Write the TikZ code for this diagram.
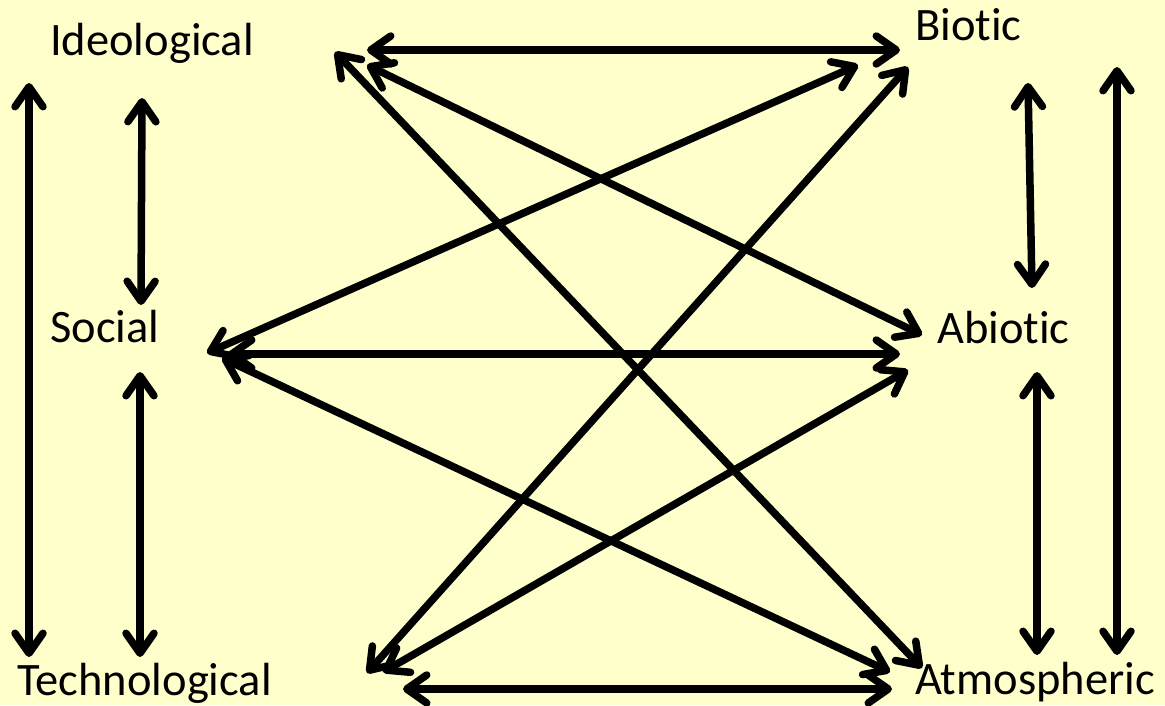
\documentclass[tikz,border=0pt]{standalone}
\usepackage{fontspec}
\setmainfont{Carlito}[Ligatures={NoCommon,NoContextual}]
\usetikzlibrary{arrows.meta}
\definecolor{bg}{HTML}{FFFFCC}
\begin{document}
\begin{tikzpicture}[x=1pt,y=-1pt,
  lbl/.style={anchor=base west,inner sep=0pt,font=\fontsize{46.5}{50}\selectfont},
  link/.style={line width=7.5pt,{Straight Barb[length=20pt,width=28pt,round]}-{Straight Barb[length=20pt,width=28pt,round]}}]
\fill[bg] (0,0) rectangle (1165,705);
\useasboundingbox (0,0) rectangle (1165,705);
% labels
\node[lbl] (ideo) at (50,55) {Ideological};
\node[lbl] (biot) at (915,40) {Biotic};
\node[lbl] (soc) at (50,342) {Social};
\node[lbl] (abio) at (937,343) {Abiotic};
\node[lbl] (tech) at (17,695) {Technological};
\node[lbl] (atmo) at (915,694) {Atmospheric};
% endpoints
\coordinate (ib1) at (367,50);   \coordinate (ib2) at (900,50);
\coordinate (it1) at (29,83);    \coordinate (it2) at (29,657);
\coordinate (is1) at (142,98);   \coordinate (is2) at (141,305);
\coordinate (st1) at (140,372);  \coordinate (st2) at (140,657);
\coordinate (ba1) at (1028,83);  \coordinate (ba2) at (1032,288);
\coordinate (bt1) at (1117,67);  \coordinate (bt2) at (1117,655);
\coordinate (aa1) at (1037,372); \coordinate (aa2) at (1037,655);
\coordinate (ta1) at (403,689);  \coordinate (ta2) at (892,689);
\coordinate (sa1) at (228,354);  \coordinate (sa2) at (900,354);
\coordinate (sb1) at (207,353);  \coordinate (sb2) at (858,65);
\coordinate (sm1) at (222,358);  \coordinate (sm2) at (890,672);
\coordinate (ia1) at (367,65);   \coordinate (ia2) at (922,335);
\coordinate (im1) at (335,52);   \coordinate (im2) at (922,668);
\coordinate (tb1) at (367,673);  \coordinate (tb2) at (908,67);
\coordinate (tab1) at (383,672); \coordinate (tab2) at (908,370);
% connectors
\foreach \a/\b in {ib1/ib2,it1/it2,is1/is2,st1/st2,ba1/ba2,bt1/bt2,aa1/aa2,ta1/ta2,sa1/sa2,sb1/sb2,sm1/sm2,ia1/ia2,im1/im2,tb1/tb2,tab1/tab2}
  \draw[link] (\a) -- (\b);
\end{tikzpicture}
\end{document}
